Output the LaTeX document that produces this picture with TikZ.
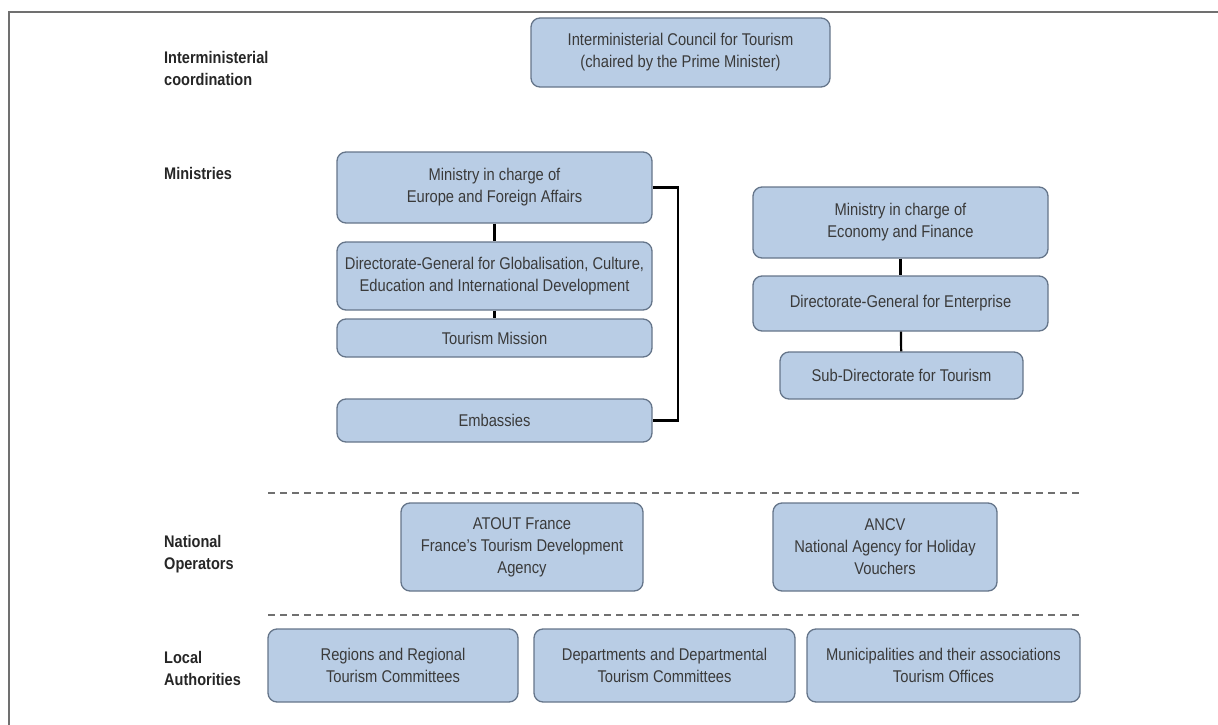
\documentclass[tikz,border=0pt]{standalone}
\usepackage{fontspec}
\setmainfont{Liberation Sans}[FakeStretch=0.865]
\definecolor{boxfill}{HTML}{B9CDE5}
\definecolor{boxline}{HTML}{65758A}
\definecolor{txt}{HTML}{3A3A3A}
\definecolor{lbltxt}{HTML}{262626}
\definecolor{frame}{HTML}{707070}
\tikzset{
  box/.style={draw=boxline, line width=1.3pt, fill=boxfill, rounded corners=9pt,
    align=center, inner sep=0pt, text=txt, font=\fontsize{17}{22}\selectfont, anchor=center},
  lbl/.style={anchor=west, align=left, inner sep=0pt, text=lbltxt,
    font=\fontsize{16.8}{22}\selectfont\bfseries},
  link/.style={line width=2.2pt, black},
  sepline/.style={draw=frame, line width=2pt, dash pattern=on 7pt off 5pt},
}
\begin{document}
\begin{tikzpicture}[x=1pt,y=-1pt]
\useasboundingbox (0,0) rectangle (1218,725);
\draw[frame, line width=2pt] (9,725) -- (9,12) -- (1218,12);

% row labels
\node[lbl] (l1) at (164,68) {Interministerial\\coordination};
\node[lbl] (l2) at (164,173) {Ministries};
\node[lbl] (l3) at (164,554) {National\\Operators};
\node[lbl] (l4) at (164,668) {Local\\Authorities};

% boxes
\node[box, minimum width=299pt, minimum height=69pt] (council) at (680.5,52.5)
  {Interministerial Council for Tourism\\(chaired by the Prime Minister)};
\node[box, minimum width=315pt, minimum height=71pt] (eur) at (494.5,187.5)
  {Ministry in charge of\\Europe and Foreign Affairs};
\node[box, minimum width=315pt, minimum height=68pt] (dgg) at (494.5,276)
  {Directorate-General for Globalisation, Culture,\\Education and International Development};
\node[box, minimum width=315pt, minimum height=38pt] (tm) at (494.5,338)
  {Tourism Mission};
\node[box, minimum width=315pt, minimum height=43pt] (emb) at (494.5,420.5)
  {Embassies};
\node[box, minimum width=295pt, minimum height=71pt] (eco) at (900.5,222.5)
  {Ministry in charge of\\Economy and Finance};
\node[box, minimum width=295pt, minimum height=55pt] (dge) at (900.5,303.5)
  {Directorate-General for Enterprise};
\node[box, minimum width=243pt, minimum height=47pt] (sub) at (901.5,375.5)
  {Sub-Directorate for Tourism};
\node[box, minimum width=242pt, minimum height=88pt] (atout) at (522,547)
  {ATOUT France\\France's Tourism Development\\Agency};
\node[box, minimum width=224pt, minimum height=88pt] (ancv) at (885,547)
  {ANCV\\National Agency for Holiday\\Vouchers};
\node[box, minimum width=250pt, minimum height=73pt] (reg) at (393,665.5)
  {Regions and Regional\\Tourism Committees};
\node[box, minimum width=261pt, minimum height=73pt] (dep) at (664.5,665.5)
  {Departments and Departmental\\Tourism Committees};
\node[box, minimum width=273pt, minimum height=73pt] (mun) at (943.5,665.5)
  {Municipalities and their associations\\Tourism Offices};

% connectors
\draw[link] (eur) -- (dgg);
\draw[link] (dgg) -- (tm);
\draw[link] (eur.east) -- ([xshift=25pt]eur.east) |- (emb.east);
\draw[link] (eco) -- (dge);
\draw[link] (dge) -- (sub);

% separators
\draw[sepline] (268,493) -- (1083,493);
\draw[sepline] (268,615) -- (1083,615);
\end{tikzpicture}
\end{document}
